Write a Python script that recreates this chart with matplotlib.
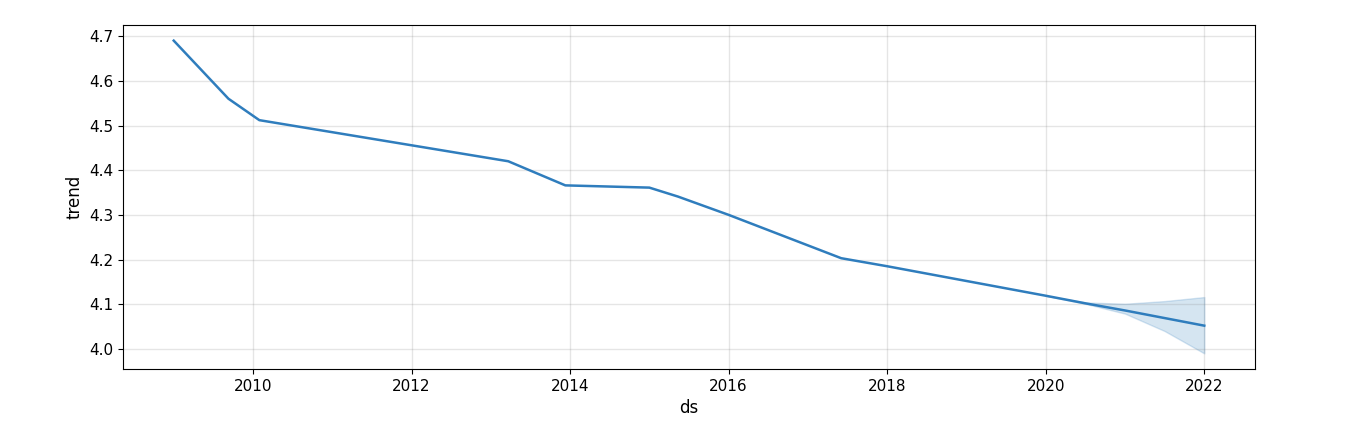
import matplotlib
matplotlib.use('Agg')
import matplotlib.pyplot as plt

# trend (decimal year, value)
years = [2009.0, 2009.69, 2010.08, 2013.22, 2013.94, 2015.0, 2015.36, 2016.0,
         2017.42, 2018.0, 2019.0, 2020.0, 2020.5, 2021.0, 2021.5, 2022.0]
trend = [4.69, 4.56, 4.512, 4.42, 4.366, 4.361, 4.341, 4.300,
         4.203, 4.185, 4.152, 4.119, 4.102, 4.086, 4.069, 4.052]

band_years = [2020.0, 2020.5, 2021.0, 2021.5, 2022.0]
band_lower = [4.119, 4.101, 4.079, 4.040, 3.990]
band_upper = [4.119, 4.104, 4.101, 4.107, 4.116]

xticks = [2010, 2012, 2014, 2016, 2018, 2020, 2022]

fig = plt.figure(figsize=(13.68, 4.42), dpi=100)
ax = fig.add_axes([123 / 1368, 1 - 369 / 442, (1255 - 123) / 1368, (369 - 25) / 442])
ax.plot(years, trend, ls='-', c='#2f7dbd', lw=1.8)
ax.fill_between(band_years, band_lower, band_upper, color='#2f7dbd', alpha=0.2)
ax.grid(True, which='major', c='gray', ls='-', lw=1, alpha=0.2)
ax.set_xticks(xticks)
ax.set_xticklabels([str(x) for x in xticks])
ax.set_xlim(2008.36, 2022.64)
ax.set_ylim(3.955, 4.725)
ax.set_xlabel('ds', fontsize=12)
ax.set_ylabel('trend', fontsize=12)
ax.tick_params(labelsize=11)
fig.savefig('out.png', dpi=100)
plt.close(fig)
